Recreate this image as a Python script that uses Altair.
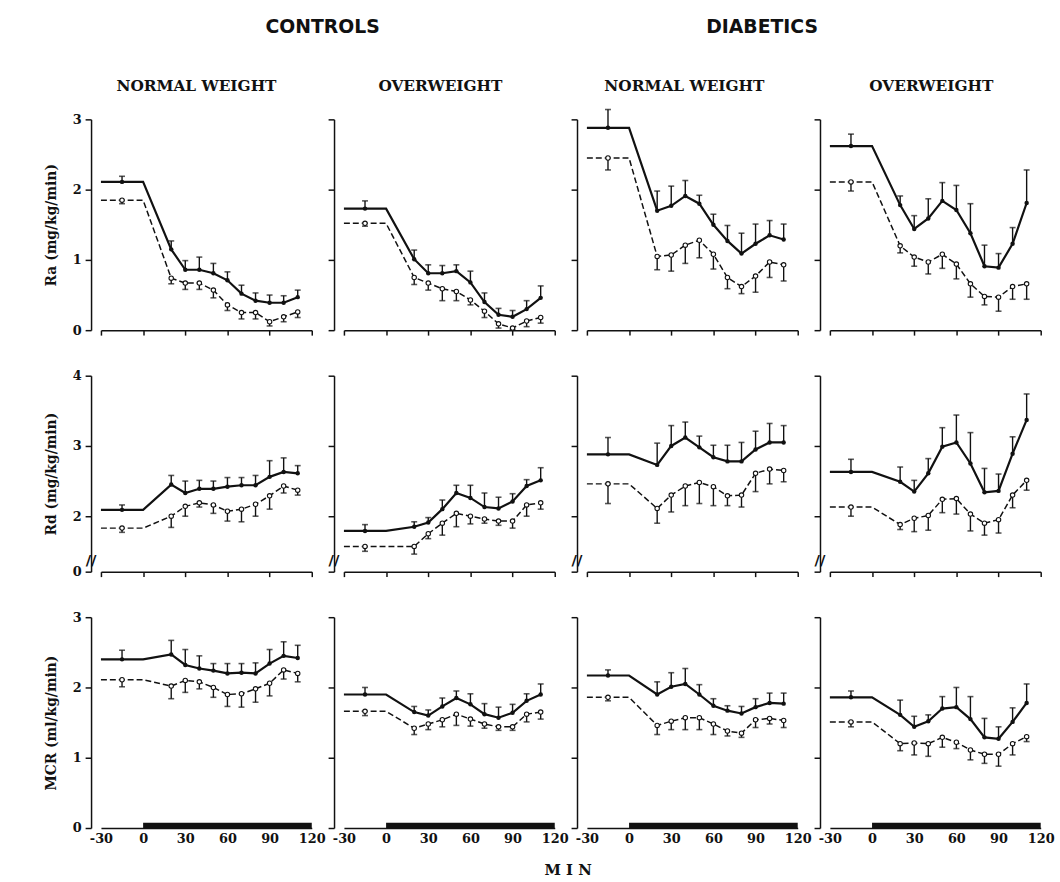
import altair as alt
import pandas as pd

# ---------------- data ----------------
MARK_TIMES = [-15, 20, 30, 40, 50, 60, 70, 80, 90, 100, 110]   # first value = basal mean
LINE_START = -30
LINE_BEND = 0
X_TICKS = [-30, 0, 30, 60, 90, 120]
INFUSION = [0, 120]

# Ra (mg/kg/min)
RA_CNW_S = [2.11, 1.15, 0.86, 0.86, 0.81, 0.71, 0.52, 0.42, 0.39, 0.39, 0.47]
RA_CNW_S_ERR = [2.19, 1.27, 0.99, 1.04, 0.95, 0.83, 0.64, 0.53, 0.50, 0.49, 0.57]
RA_CNW_D = [1.85, 0.74, 0.67, 0.67, 0.57, 0.36, 0.25, 0.25, 0.12, 0.19, 0.26]
RA_CNW_D_ERR = [1.80, 0.66, 0.58, 0.58, 0.46, 0.28, 0.16, 0.16, 0.06, 0.12, 0.18]

RA_COW_S = [1.73, 1.01, 0.81, 0.81, 0.84, 0.68, 0.40, 0.22, 0.19, 0.30, 0.46]
RA_COW_S_ERR = [1.84, 1.14, 0.93, 0.92, 0.93, 0.84, 0.53, 0.31, 0.28, 0.42, 0.63]
RA_COW_D = [1.52, 0.75, 0.67, 0.59, 0.55, 0.43, 0.27, 0.09, 0.03, 0.13, 0.18]
RA_COW_D_ERR = [1.48, 0.65, 0.57, 0.42, 0.42, 0.36, 0.18, 0.03, 0.01, 0.05, 0.10]

RA_DNW_S = [2.88, 1.70, 1.77, 1.91, 1.80, 1.50, 1.27, 1.09, 1.23, 1.35, 1.29]
RA_DNW_S_ERR = [3.14, 1.98, 2.05, 2.13, 1.92, 1.65, 1.49, 1.38, 1.51, 1.56, 1.51]
RA_DNW_D = [2.45, 1.05, 1.07, 1.21, 1.28, 1.08, 0.75, 0.62, 0.77, 0.97, 0.93]
RA_DNW_D_ERR = [2.28, 0.86, 0.84, 0.95, 1.03, 0.87, 0.59, 0.52, 0.54, 0.75, 0.70]

RA_DOW_S = [2.62, 1.78, 1.44, 1.59, 1.84, 1.71, 1.38, 0.91, 0.89, 1.23, 1.81]
RA_DOW_S_ERR = [2.79, 1.91, 1.63, 1.87, 2.10, 2.06, 1.80, 1.21, 1.09, 1.46, 2.28]
RA_DOW_D = [2.11, 1.20, 1.04, 0.97, 1.08, 0.94, 0.66, 0.48, 0.47, 0.62, 0.66]
RA_DOW_D_ERR = [1.98, 1.10, 0.91, 0.80, 0.88, 0.73, 0.47, 0.36, 0.27, 0.44, 0.44]

# Rd (mg/kg/min)
RD_CNW_S = [2.09, 2.45, 2.33, 2.39, 2.39, 2.42, 2.44, 2.44, 2.56, 2.63, 2.61]
RD_CNW_S_ERR = [2.16, 2.58, 2.50, 2.51, 2.50, 2.55, 2.55, 2.58, 2.79, 2.83, 2.72]
RD_CNW_D = [1.83, 2.00, 2.14, 2.19, 2.16, 2.07, 2.10, 2.17, 2.29, 2.43, 2.37]
RD_CNW_D_ERR = [1.77, 1.84, 2.00, 2.13, 2.04, 1.93, 1.92, 2.00, 2.10, 2.33, 2.30]

RD_COW_S = [1.79, 1.85, 1.91, 2.10, 2.33, 2.26, 2.13, 2.11, 2.21, 2.43, 2.51]
RD_COW_S_ERR = [1.88, 1.92, 1.98, 2.23, 2.44, 2.44, 2.33, 2.27, 2.32, 2.52, 2.69]
RD_COW_D = [1.57, 1.57, 1.75, 1.90, 2.04, 2.00, 1.96, 1.93, 1.93, 2.16, 2.19]
RD_COW_D_ERR = [1.50, 1.46, 1.68, 1.73, 1.85, 1.89, 1.90, 1.87, 1.83, 2.00, 2.10]

RD_DNW_S = [2.88, 2.73, 3.00, 3.12, 2.98, 2.84, 2.78, 2.78, 2.95, 3.05, 3.05]
RD_DNW_S_ERR = [3.12, 3.04, 3.29, 3.34, 3.14, 3.01, 3.01, 3.05, 3.21, 3.32, 3.29]
RD_DNW_D = [2.46, 2.11, 2.30, 2.43, 2.48, 2.42, 2.29, 2.30, 2.61, 2.67, 2.65]
RD_DNW_D_ERR = [2.18, 1.90, 2.06, 2.15, 2.18, 2.15, 2.15, 2.13, 2.35, 2.46, 2.49]

RD_DOW_S = [2.63, 2.49, 2.35, 2.61, 2.99, 3.05, 2.75, 2.34, 2.36, 2.89, 3.37]
RD_DOW_S_ERR = [2.81, 2.70, 2.51, 2.82, 3.26, 3.44, 3.19, 2.68, 2.60, 3.13, 3.74]
RD_DOW_D = [2.13, 1.88, 1.97, 2.01, 2.24, 2.25, 2.03, 1.90, 1.95, 2.30, 2.51]
RD_DOW_D_ERR = [2.00, 1.81, 1.78, 1.80, 2.05, 2.03, 1.79, 1.73, 1.76, 2.12, 2.37]

# MCR (ml/kg/min)
MCR_CNW_S = [2.40, 2.47, 2.32, 2.27, 2.24, 2.20, 2.21, 2.20, 2.34, 2.45, 2.42]
MCR_CNW_S_ERR = [2.53, 2.67, 2.54, 2.45, 2.34, 2.34, 2.34, 2.35, 2.54, 2.65, 2.60]
MCR_CNW_D = [2.11, 2.02, 2.10, 2.08, 2.00, 1.90, 1.91, 1.98, 2.06, 2.25, 2.20]
MCR_CNW_D_ERR = [2.01, 1.84, 1.93, 1.98, 1.86, 1.73, 1.72, 1.79, 1.88, 2.12, 2.08]

MCR_COW_S = [1.90, 1.65, 1.60, 1.73, 1.85, 1.76, 1.62, 1.57, 1.64, 1.81, 1.90]
MCR_COW_S_ERR = [2.00, 1.73, 1.68, 1.85, 1.95, 1.91, 1.77, 1.72, 1.76, 1.91, 2.05]
MCR_COW_D = [1.66, 1.42, 1.48, 1.54, 1.62, 1.55, 1.48, 1.44, 1.44, 1.62, 1.65]
MCR_COW_D_ERR = [1.60, 1.33, 1.40, 1.44, 1.46, 1.45, 1.42, 1.39, 1.39, 1.51, 1.55]

MCR_DNW_S = [2.17, 1.90, 2.01, 2.05, 1.90, 1.74, 1.67, 1.63, 1.72, 1.78, 1.77]
MCR_DNW_S_ERR = [2.25, 2.08, 2.21, 2.27, 2.04, 1.84, 1.74, 1.73, 1.84, 1.92, 1.92]
MCR_DNW_D = [1.86, 1.46, 1.52, 1.57, 1.57, 1.48, 1.38, 1.35, 1.54, 1.56, 1.53]
MCR_DNW_D_ERR = [1.81, 1.33, 1.40, 1.40, 1.40, 1.33, 1.31, 1.29, 1.43, 1.48, 1.43]

MCR_DOW_S = [1.86, 1.61, 1.44, 1.52, 1.70, 1.72, 1.55, 1.29, 1.27, 1.51, 1.78]
MCR_DOW_S_ERR = [1.95, 1.82, 1.59, 1.61, 1.87, 2.00, 1.87, 1.56, 1.44, 1.71, 2.05]
MCR_DOW_D = [1.51, 1.20, 1.21, 1.20, 1.29, 1.22, 1.11, 1.05, 1.05, 1.20, 1.30]
MCR_DOW_D_ERR = [1.44, 1.10, 1.04, 1.02, 1.15, 1.13, 0.97, 0.92, 0.88, 1.04, 1.23]

GROUP_TITLES = ["CONTROLS", "DIABETICS"]
COLUMN_TITLES = ["NORMAL WEIGHT", "OVERWEIGHT", "NORMAL WEIGHT", "OVERWEIGHT"]
ROW_TITLES = ["Ra (mg/kg/min)", "Rd (mg/kg/min)", "MCR (ml/kg/min)"]
ROW_DOMAINS = [[0, 3], [1.21, 4], [0, 3]]
ROW_TICKS = [[0, 1, 2, 3], [1.21, 2, 3, 4], [0, 1, 2, 3]]
RD_BREAK = [1.37]
X_LABEL = "M I N"

SERIES = [
    [(RA_CNW_S, RA_CNW_S_ERR, RA_CNW_D, RA_CNW_D_ERR),
     (RA_COW_S, RA_COW_S_ERR, RA_COW_D, RA_COW_D_ERR),
     (RA_DNW_S, RA_DNW_S_ERR, RA_DNW_D, RA_DNW_D_ERR),
     (RA_DOW_S, RA_DOW_S_ERR, RA_DOW_D, RA_DOW_D_ERR)],
    [(RD_CNW_S, RD_CNW_S_ERR, RD_CNW_D, RD_CNW_D_ERR),
     (RD_COW_S, RD_COW_S_ERR, RD_COW_D, RD_COW_D_ERR),
     (RD_DNW_S, RD_DNW_S_ERR, RD_DNW_D, RD_DNW_D_ERR),
     (RD_DOW_S, RD_DOW_S_ERR, RD_DOW_D, RD_DOW_D_ERR)],
    [(MCR_CNW_S, MCR_CNW_S_ERR, MCR_CNW_D, MCR_CNW_D_ERR),
     (MCR_COW_S, MCR_COW_S_ERR, MCR_COW_D, MCR_COW_D_ERR),
     (MCR_DNW_S, MCR_DNW_S_ERR, MCR_DNW_D, MCR_DNW_D_ERR),
     (MCR_DOW_S, MCR_DOW_S_ERR, MCR_DOW_D, MCR_DOW_D_ERR)],
]

# ---------------- style ----------------
SERIF = "DejaVu Serif"
SANS = "DejaVu Sans"
INK = "#111111"
PANEL_W = 213
PANEL_H = [213, 198, 213]
COL_GAP = 32.5
ROW_GAP = 46
TITLE_DX = [-10, -9, -8, -4]
TITLE_OFFSET = [19, 24, 14, 24]      # compensates for content poking above the plot area
# group headings are drawn from the Rd-row panels (so they do not disturb the column titles)
GROUP_TITLE_POS = [(0, 224), (2, 177)]   # (column, x within that panel)
GROUP_TITLE_Y = -(PANEL_H[0] + ROW_GAP) - 93


def line_frame(vals):
    ts = [LINE_START] + MARK_TIMES[:1] + [LINE_BEND] + MARK_TIMES[1:]
    vs = [vals[0], vals[0], vals[0]] + vals[1:]
    return pd.DataFrame({"t": ts, "v": vs})


def point_frame(vals, errs):
    return pd.DataFrame({"t": MARK_TIMES, "v": vals, "e": errs})


def panel(r, c):
    s, se, d, de = SERIES[r][c]
    bottom = r == 2
    xscale = alt.Scale(domain=[-30, 120], nice=False, zero=False)
    yscale = alt.Scale(domain=ROW_DOMAINS[r], nice=False, zero=False)
    if bottom:
        xaxis = alt.Axis(values=X_TICKS, ticks=False, labelPadding=5, labelFontSize=13,
                         labelFlush=False, grid=False, labelExpr="toString(datum.value)")
    else:
        xaxis = alt.Axis(values=X_TICKS, labels=False, tickSize=5, grid=False)
    yaxis_kw = dict(values=ROW_TICKS[r], tickSize=6, offset=10, grid=False,
                    labels=(c == 0), labelPadding=4, titlePadding=14)
    if r == 1:
        yaxis_kw["labelExpr"] = "datum.value < 1.5 ? '0' : format(datum.value, 'd')"
    else:
        yaxis_kw["format"] = "d"
    yaxis = alt.Axis(**yaxis_kw)
    ytitle = ROW_TITLES[r] if c == 0 else None

    X = alt.X("t:Q", scale=xscale, axis=xaxis, title=None)
    Y = alt.Y("v:Q", scale=yscale, axis=yaxis, title=ytitle)
    YE = alt.Y("e:Q", scale=yscale, axis=yaxis, title=ytitle)

    sl = line_frame(s)
    dl = line_frame(d)
    sp = point_frame(s, se)
    dp = point_frame(d, de)

    layers = [
        alt.Chart(dl).mark_line(color=INK, strokeWidth=1.5, strokeDash=[6, 3]).encode(x=X, y=Y),
        alt.Chart(sl).mark_line(color=INK, strokeWidth=2.2).encode(x=X, y=Y),
        alt.Chart(dp).mark_rule(color=INK, strokeWidth=1.4).encode(x=X, y=Y, y2="e:Q"),
        alt.Chart(sp).mark_rule(color=INK, strokeWidth=1.4).encode(x=X, y=Y, y2="e:Q"),
        alt.Chart(dp).mark_tick(color=INK, orient="horizontal", size=6, thickness=1.6).encode(x=X, y=YE),
        alt.Chart(sp).mark_tick(color=INK, orient="horizontal", size=6, thickness=1.6).encode(x=X, y=YE),
        alt.Chart(sp).mark_circle(color=INK, size=20, opacity=1).encode(x=X, y=Y),
        alt.Chart(dp).mark_point(shape="circle", filled=True, fill="white", stroke=INK,
                                 strokeWidth=1.1, size=20, opacity=1).encode(x=X, y=Y),
    ]
    if bottom:
        bar = pd.DataFrame({"t": [INFUSION[0]], "t2": [INFUSION[1]], "v": [0.0], "v2": [0.075]})
        layers.append(alt.Chart(bar).mark_rect(color=INK).encode(
            x=X, x2="t2:Q", y=Y, y2="v2:Q"))
    if r == 1:
        brk = pd.DataFrame({"v": RD_BREAK})
        layers.append(alt.Chart(brk).mark_text(text="//", fontSize=15, fontWeight="bold",
                                               font=SANS, color=INK).encode(
            x=alt.value(-10), y=Y))
        for gi, (gc, gx) in enumerate(GROUP_TITLE_POS):
            if gc == c:
                layers.append(alt.Chart(pd.DataFrame({"label": [GROUP_TITLES[gi]]})).mark_text(
                    font=SANS, fontSize=19, fontWeight="bold", color=INK, align="center",
                    baseline="middle").encode(text="label:N", x=alt.value(gx),
                                              y=alt.value(GROUP_TITLE_Y)))

    props = dict(width=PANEL_W, height=PANEL_H[r])
    if r == 0:
        props["title"] = alt.TitleParams(COLUMN_TITLES[c], font=SERIF, fontSize=15.5,
                                         fontWeight="bold", color=INK, offset=TITLE_OFFSET[c],
                                         anchor="middle", dx=TITLE_DX[c])
    return alt.layer(*layers).properties(**props)


panels = [panel(r, c) for r in range(3) for c in range(4)]

chart = alt.concat(
    *panels, columns=4, spacing={"row": ROW_GAP, "column": COL_GAP}, bounds="flush",
    title=alt.TitleParams(X_LABEL, orient="bottom", font=SERIF, fontSize=15, fontWeight="bold",
                          color=INK, offset=17, anchor="middle", dx=19),
).properties(
    padding={"left": 44, "top": 14, "right": 5, "bottom": 5}
).configure(background="white").configure_view(stroke=None).configure_axis(
    domainColor=INK, domainWidth=1.5, tickColor=INK, tickWidth=1.5, grid=False,
    labelColor=INK, labelFont=SERIF, labelFontWeight="bold", labelFontSize=13,
    titleFont=SERIF, titleFontWeight="bold", titleFontSize=14, titleColor=INK,
)

chart.save("out.html", embed_options={"renderer": "svg", "actions": False})
